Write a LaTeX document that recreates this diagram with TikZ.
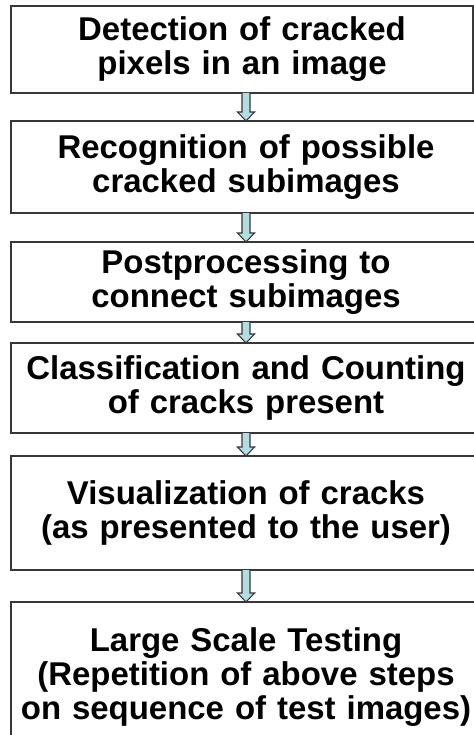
\documentclass[tikz,border=0pt]{standalone}
\usepackage{fontspec}
\setmainfont{Liberation Sans}
\usetikzlibrary{positioning,calc}

\definecolor{boxline}{RGB}{55,55,55}
\definecolor{arrowfill}{RGB}{180,221,226}

\newcommand{\flowarrow}[2]{%
  \draw[arrowbody] ($(#2.north |- #1.south)+(-3pt,0)$) -- ($(#2.north)+(-3pt,6.75pt)$)
    -- ($(#2.north)+(-6.4pt,6.75pt)$) -- (#2.north) -- ($(#2.north)+(6.4pt,6.75pt)$)
    -- ($(#2.north)+(3pt,6.75pt)$) -- ($(#2.north |- #1.south)+(3pt,0)$);}

\tikzset{
  stage/.style={draw=boxline, line width=1.4pt, inner sep=0pt, outer sep=0pt, align=center,
    text width=352.5pt, font=\bfseries\fontsize{24.7}{25.5}\selectfont},
  arrowbody/.style={draw=boxline, fill=arrowfill, line width=0.8pt, line join=miter}
}

\begin{document}
\begin{tikzpicture}
	\clip (0,0) rectangle (355.5pt,-551.25pt);
	\fill[white] (0,0) rectangle (355.5pt,-551.25pt);

	\node[stage, text width=346.5pt, minimum height=65.25pt, anchor=north west] (detect) at (8.25pt,-4.5pt) {Detection of cracked\\ pixels in an image};
	\node[stage, below=21pt of detect.south west, anchor=north west, minimum height=69pt] (recog) {Recognition of possible\\ cracked subimages};
	\node[stage, below=21.75pt of recog.south west, anchor=north west, minimum height=60pt] (post) {Postprocessing to\\ connect subimages};
	\node[stage, below=15.75pt of post.south west, anchor=north west, minimum height=67.5pt] (classify) {Classification and Counting\\ of cracks present};
	\node[stage, below=17.25pt of classify.south west, anchor=north west, minimum height=85.5pt] (visual) {Visualization of cracks\\ (as presented to the user)};
	\node[stage, below=24pt of visual.south west, anchor=north west, minimum height=113.25pt] (testing) {Large Scale Testing\\ (Repetition of above steps\\ on sequence of test images)};

	\flowarrow{detect}{recog}
	\flowarrow{recog}{post}
	\flowarrow{post}{classify}
	\flowarrow{classify}{visual}
	\flowarrow{visual}{testing}
\end{tikzpicture}
\end{document}
